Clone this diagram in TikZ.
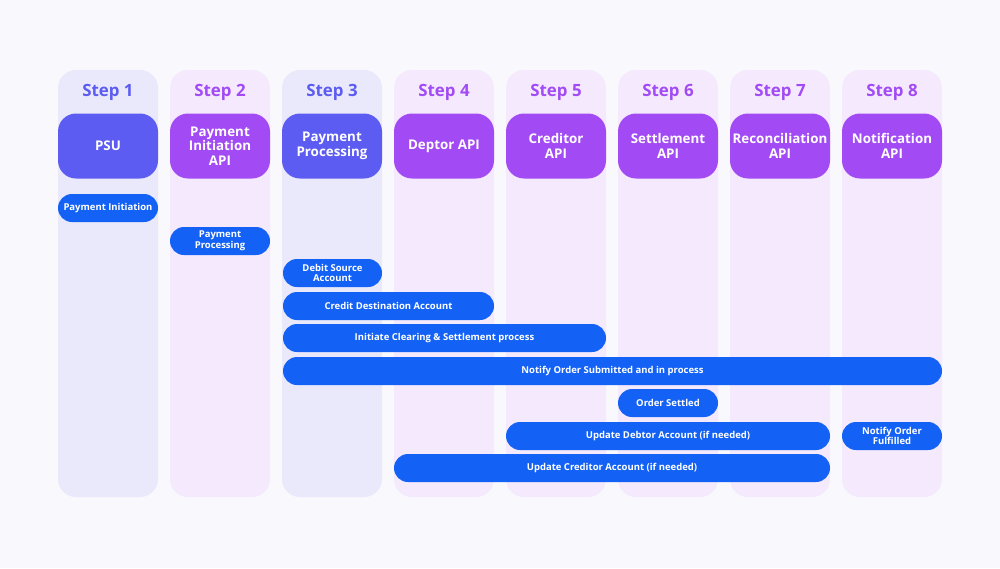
\documentclass[tikz,border=0pt]{standalone}
\usepackage{fontspec}
\setmainfont{Open Sans}
\usetikzlibrary{calc}
\definecolor{bgc}{HTML}{F9F8FC}
\definecolor{laneb}{HTML}{E9E9FB}
\definecolor{lanep}{HTML}{F4E9FD}
\definecolor{headb}{HTML}{5C5CF2}
\definecolor{headp}{HTML}{A24BF5}
\definecolor{barc}{HTML}{1462F5}
\begin{document}
\begin{tikzpicture}[x=0.02cm,y=-0.02cm]
\tikzstyle{lane}=[rounded corners=18*0.02cm]
\tikzstyle{head}=[rounded corners=18*0.02cm,minimum width=100*0.02cm,minimum height=65*0.02cm,inner sep=1pt,align=center,text=white,font=\fontsize{7.6}{8.4}\selectfont\bfseries]
\tikzstyle{steplbl}=[font=\fontsize{9.6}{10}\selectfont\bfseries]
\tikzstyle{bar}=[fill=barc,rounded corners=14*0.02cm,text=white,align=center,inner sep=0pt,font=\fontsize{5.4}{6}\selectfont\bfseries]
\fill[bgc] (0,0) rectangle (1000,568);
% lanes and headers
\foreach \i/\lc/\hc in {1/laneb/headb,2/lanep/headp,3/laneb/headb,4/lanep/headp,5/lanep/headp,6/lanep/headp,7/lanep/headp,8/lanep/headp}{
  \fill[\lc,lane] ({58+112*(\i-1)},70) rectangle ({158+112*(\i-1)},497);
  \node[steplbl,text=\hc] (s\i) at ({108+112*(\i-1)},92) {Step \i};
}
\foreach \i/\hc/\txt in {
	1/headb/PSU,
	2/headp/{Payment\\Initiation\\API},
	3/headb/{Payment\\Processing},
	4/headp/Deptor API,
	5/headp/{Creditor\\API},
	6/headp/{Settlement\\API},
	7/headp/{Reconciliation\\API},
	8/headp/{Notification\\API}}
	\node[head,fill=\hc] (h\i) at ({108+112*(\i-1)},146) {\txt};
% bars
\foreach \name/\xa/\xb/\y/\txt in {
	b1/58/158/208/Payment Initiation,
	b2/170/270/241/{Payment\\Processing},
	b3/283/382/273/{Debit Source\\Account},
	b4/283/494/306/Credit Destination Account,
	b5/283/606/338/Initiate Clearing \& Settlement process,
	b6/283/942/371/Notify Order Submitted and in process,
	b7/618/718/403/Order Settled,
	b8/506/830/436/Update Debtor Account (if needed),
	b9/842/942/436/{Notify Order\\Fulfilled},
	b10/394/830/468/Update Creditor Account (if needed)}
	\node[bar,minimum width={(\xb-\xa)*0.02cm},minimum height=28*0.02cm] (\name) at ({(\xa+\xb)/2},\y) {\txt};
\end{tikzpicture}
\end{document}
